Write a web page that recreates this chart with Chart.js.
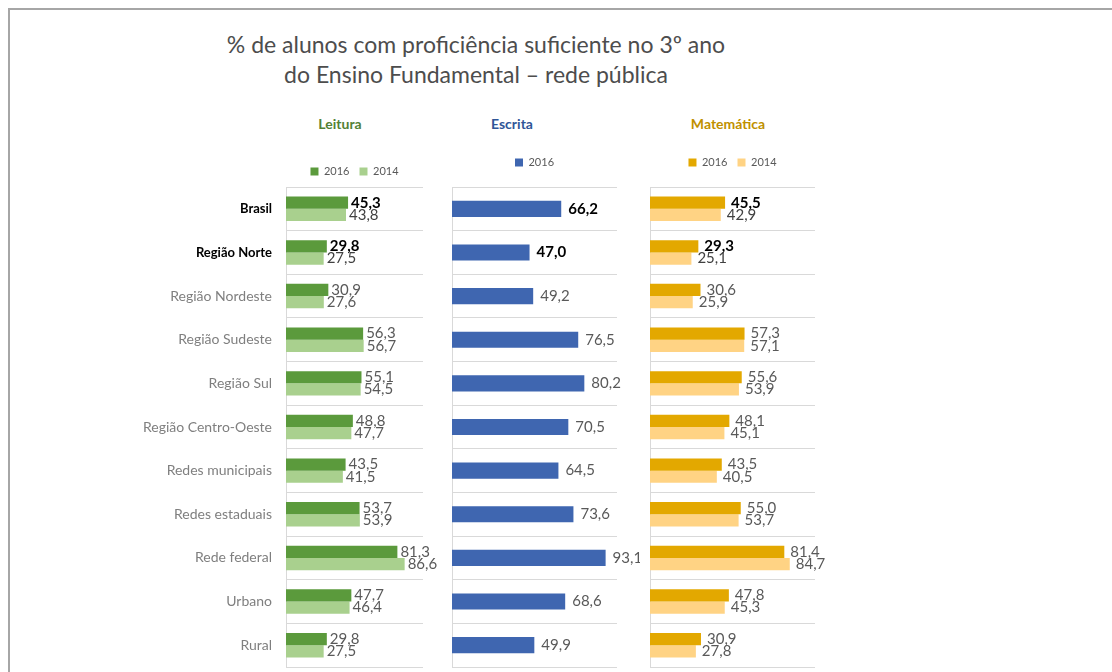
<!DOCTYPE html>
<html lang="pt">
<head>
<meta charset="UTF-8">
<title>Proficiência 3º ano - rede pública</title>
<script src="https://cdn.jsdelivr.net/npm/chart.js@4.4.1/dist/chart.umd.min.js"></script>
<style>
    body { margin: 0; background: #fff; font-family: Lato, sans-serif; }
    #frame {
        position: absolute; left: 8px; top: 8px; width: 1104px; height: 664px;
        border-top: 2px solid #a6a6a6; border-left: 2px solid #a6a6a6;
    }
    .title { position: absolute; left: 0; width: 952px; text-align: center; color: #4d4d4d; font-size: 23px; }
    .panel { position: absolute; font-weight: bold; font-size: 14px; text-align: center; width: 160px; }
</style>
</head>
<body>
<div id="frame"></div>
<div class="title" style="top: 30px;">% de alunos com proficiência suficiente no 3º ano</div>
<div class="title" style="top: 60px;">do Ensino Fundamental – rede pública</div>

<div class="panel" style="left: 260px; top: 115px; color: #538135;">Leitura</div>
<div class="panel" style="left: 432px; top: 115px; color: #2f5597;">Escrita</div>
<div class="panel" style="left: 648px; top: 115px; color: #bf9000;">Matemática</div>

<div style="position:absolute; left:140px; top:156px; width:303px; height:516px;"><canvas id="leitura"></canvas></div>
<div style="position:absolute; left:430px; top:147px; width:210px; height:525px;"><canvas id="escrita"></canvas></div>
<div style="position:absolute; left:620px; top:147px; width:225px; height:525px;"><canvas id="matematica"></canvas></div>

<script>
    var categorias = ["Brasil", "Região Norte", "Região Nordeste", "Região Sudeste", "Região Sul",
        "Região Centro-Oeste", "Redes municipais", "Redes estaduais", "Rede federal", "Urbano", "Rural"];

    var leitura2016 = [45.3, 29.8, 30.9, 56.3, 55.1, 48.8, 43.5, 53.7, 81.3, 47.7, 29.8];
    var leitura2014 = [43.8, 27.5, 27.6, 56.7, 54.5, 47.7, 41.5, 53.9, 86.6, 46.4, 27.5];
    var escrita2016 = [66.2, 47.0, 49.2, 76.5, 80.2, 70.5, 64.5, 73.6, 93.1, 68.6, 49.9];
    var matematica2016 = [45.5, 29.3, 30.6, 57.3, 55.6, 48.1, 43.5, 55.0, 81.4, 47.8, 30.9];
    var matematica2014 = [42.9, 25.1, 25.9, 57.1, 53.9, 45.1, 40.5, 53.7, 84.7, 45.3, 27.8];

    function fmt(v) {
        return v.toFixed(1).replace(".", ",");
    }

    // numbers at the end of each bar
    var valueLabels = {
        id: "valueLabels",
        afterDatasetsDraw: function (chart, args, opts) {
            var ctx = chart.ctx;
            ctx.save();
            ctx.textBaseline = "middle";
            chart.data.datasets.forEach(function (ds, di) {
                var meta = chart.getDatasetMeta(di);
                meta.data.forEach(function (bar, i) {
                    var destaque = i < 2;
                    ctx.font = (destaque && di === 0 ? "bold " : "") + "15px Lato";
                    ctx.fillStyle = destaque ? (di === 0 ? "#000" : "#404040") : "#595959";
                    ctx.fillText(fmt(ds.data[i]), bar.x + opts.offset, bar.y);
                });
            });
            ctx.restore();
        }
    };

    // legend sits over the bars only, with some room below it
    var legendPlace = {
        id: "legendPlace",
        afterInit: function (chart, args, opts) {
            var fit = chart.legend.fit;
            chart.legend.fit = function () {
                fit.call(this);
                this.height += opts.extra;
            };
        },
        afterLayout: function (chart) {
            chart.legend.left = chart.chartArea.left;
            chart.legend.right = chart.chartArea.right;
        }
    };

    function makeChart(id, datasets, o) {
        return new Chart(document.getElementById(id), {
            type: "bar",
            data: { labels: categorias, datasets: datasets },
            plugins: [valueLabels, legendPlace],
            options: {
                indexAxis: "y",
                responsive: true,
                maintainAspectRatio: false,
                animation: false,
                layout: { padding: { left: o.padLeft, right: o.padRight, top: 0, bottom: 5 } },
                scales: {
                    x: { display: false, min: 0, max: 100 },
                    y: {
                        afterFit: function (scale) {
                            scale.width = o.axisWidth;
                            scale.paddingTop = 0;
                            scale.paddingBottom = 0;
                        },
                        grid: { color: "#d9d9d9", drawTicks: false, offset: true },
                        border: { display: true, color: "#d9d9d9" },
                        ticks: {
                            display: o.showLabels,
                            padding: 14,
                            color: function (c) { return c.index < 2 ? "#000" : "#7f7f7f"; },
                            font: function (c) {
                                return c.index < 2 ? { family: "Lato", size: 13, weight: "bold" }
                                    : { family: "Lato", size: 14, weight: "normal" };
                            }
                        }
                    }
                },
                plugins: {
                    legend: {
                        position: "top",
                        labels: {
                            boxWidth: 8, boxHeight: 8, padding: 10,
                            color: "#595959",
                            font: { family: "Lato", size: 11 }
                        }
                    },
                    legendPlace: { extra: o.legendExtra },
                    valueLabels: { offset: o.offset },
                    tooltip: { enabled: false }
                }
            }
        });
    }

    makeChart("leitura", [
        { label: "2016", data: leitura2016, backgroundColor: "#5b9a3c", categoryPercentage: 0.56, barPercentage: 1 },
        { label: "2014", data: leitura2014, backgroundColor: "#a9d08e", categoryPercentage: 0.56, barPercentage: 1 }
    ], { padLeft: 0, padRight: 20, axisWidth: 146, showLabels: true, legendExtra: 0, offset: 3 });

    makeChart("escrita", [
        { label: "2016", data: escrita2016, backgroundColor: "#3f66b0", categoryPercentage: 0.37, barPercentage: 1 }
    ], { padLeft: 22, padRight: 23, axisWidth: 0, showLabels: false, legendExtra: 9, offset: 7 });

    makeChart("matematica", [
        { label: "2016", data: matematica2016, backgroundColor: "#e3a800", categoryPercentage: 0.56, barPercentage: 1 },
        { label: "2014", data: matematica2014, backgroundColor: "#ffd384", categoryPercentage: 0.56, barPercentage: 1 }
    ], { padLeft: 30, padRight: 30, axisWidth: 0, showLabels: false, legendExtra: 9, offset: 6 });
</script>
</body>
</html>
